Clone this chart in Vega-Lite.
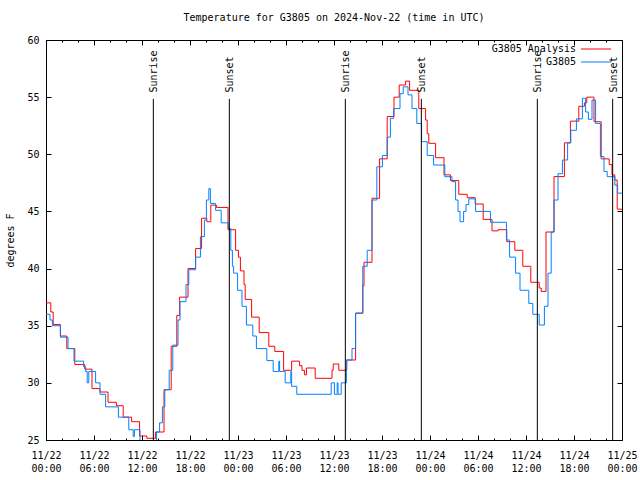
{
  "$schema": "https://vega.github.io/schema/vega-lite/v6.json",
  "width": 576,
  "height": 400,
  "autosize": "none",
  "padding": {"left": 46, "top": 40, "right": 18, "bottom": 40},
  "background": "white",
  "title": {"text": "Temperature for G3805 on 2024-Nov-22 (time in UTC)", "font": "DejaVu Sans Mono", "fontSize": 10, "fontWeight": "normal", "color": "black", "offset": 12},
  "datasets": {
    "obs": [
      {"t": "2024-11-22T00:00:00Z", "v": 37.0, "s": "G3805 Analysis"},
      {"t": "2024-11-22T00:36:00Z", "v": 36.2, "s": "G3805 Analysis"},
      {"t": "2024-11-22T00:54:00Z", "v": 35.1, "s": "G3805 Analysis"},
      {"t": "2024-11-22T01:48:00Z", "v": 34.1, "s": "G3805 Analysis"},
      {"t": "2024-11-22T02:36:00Z", "v": 33.0, "s": "G3805 Analysis"},
      {"t": "2024-11-22T03:36:00Z", "v": 31.6, "s": "G3805 Analysis"},
      {"t": "2024-11-22T04:51:00Z", "v": 31.2, "s": "G3805 Analysis"},
      {"t": "2024-11-22T05:45:00Z", "v": 29.5, "s": "G3805 Analysis"},
      {"t": "2024-11-22T06:45:00Z", "v": 29.2, "s": "G3805 Analysis"},
      {"t": "2024-11-22T07:45:00Z", "v": 28.3, "s": "G3805 Analysis"},
      {"t": "2024-11-22T08:48:00Z", "v": 28.0, "s": "G3805 Analysis"},
      {"t": "2024-11-22T09:39:00Z", "v": 27.0, "s": "G3805 Analysis"},
      {"t": "2024-11-22T10:42:00Z", "v": 26.6, "s": "G3805 Analysis"},
      {"t": "2024-11-22T11:42:00Z", "v": 25.35, "s": "G3805 Analysis"},
      {"t": "2024-11-22T12:36:00Z", "v": 25.15, "s": "G3805 Analysis"},
      {"t": "2024-11-22T13:42:00Z", "v": 25.7, "s": "G3805 Analysis"},
      {"t": "2024-11-22T14:45:00Z", "v": 29.4, "s": "G3805 Analysis"},
      {"t": "2024-11-22T15:39:00Z", "v": 33.2, "s": "G3805 Analysis"},
      {"t": "2024-11-22T16:21:00Z", "v": 35.9, "s": "G3805 Analysis"},
      {"t": "2024-11-22T16:42:00Z", "v": 37.5, "s": "G3805 Analysis"},
      {"t": "2024-11-22T17:45:00Z", "v": 40.0, "s": "G3805 Analysis"},
      {"t": "2024-11-22T18:42:00Z", "v": 41.75, "s": "G3805 Analysis"},
      {"t": "2024-11-22T19:27:00Z", "v": 44.4, "s": "G3805 Analysis"},
      {"t": "2024-11-22T20:06:00Z", "v": 44.1, "s": "G3805 Analysis"},
      {"t": "2024-11-22T20:36:00Z", "v": 45.55, "s": "G3805 Analysis"},
      {"t": "2024-11-22T21:18:00Z", "v": 45.35, "s": "G3805 Analysis"},
      {"t": "2024-11-22T22:45:00Z", "v": 43.4, "s": "G3805 Analysis"},
      {"t": "2024-11-22T23:42:00Z", "v": 41.6, "s": "G3805 Analysis"},
      {"t": "2024-11-23T00:03:00Z", "v": 41.0, "s": "G3805 Analysis"},
      {"t": "2024-11-23T00:18:00Z", "v": 39.8, "s": "G3805 Analysis"},
      {"t": "2024-11-23T00:45:00Z", "v": 38.6, "s": "G3805 Analysis"},
      {"t": "2024-11-23T00:54:00Z", "v": 37.3, "s": "G3805 Analysis"},
      {"t": "2024-11-23T01:42:00Z", "v": 35.75, "s": "G3805 Analysis"},
      {"t": "2024-11-23T02:39:00Z", "v": 34.4, "s": "G3805 Analysis"},
      {"t": "2024-11-23T03:51:00Z", "v": 33.2, "s": "G3805 Analysis"},
      {"t": "2024-11-23T04:36:00Z", "v": 32.75, "s": "G3805 Analysis"},
      {"t": "2024-11-23T05:42:00Z", "v": 31.1, "s": "G3805 Analysis"},
      {"t": "2024-11-23T06:42:00Z", "v": 31.9, "s": "G3805 Analysis"},
      {"t": "2024-11-23T07:42:00Z", "v": 31.5, "s": "G3805 Analysis"},
      {"t": "2024-11-23T08:00:00Z", "v": 31.1, "s": "G3805 Analysis"},
      {"t": "2024-11-23T08:18:00Z", "v": 30.7, "s": "G3805 Analysis"},
      {"t": "2024-11-23T08:33:00Z", "v": 31.3, "s": "G3805 Analysis"},
      {"t": "2024-11-23T09:39:00Z", "v": 30.4, "s": "G3805 Analysis"},
      {"t": "2024-11-23T11:45:00Z", "v": 31.1, "s": "G3805 Analysis"},
      {"t": "2024-11-23T11:54:00Z", "v": 31.65, "s": "G3805 Analysis"},
      {"t": "2024-11-23T12:36:00Z", "v": 31.1, "s": "G3805 Analysis"},
      {"t": "2024-11-23T13:36:00Z", "v": 32.0, "s": "G3805 Analysis"},
      {"t": "2024-11-23T14:42:00Z", "v": 36.1, "s": "G3805 Analysis"},
      {"t": "2024-11-23T15:36:00Z", "v": 38.5, "s": "G3805 Analysis"},
      {"t": "2024-11-23T15:45:00Z", "v": 40.55, "s": "G3805 Analysis"},
      {"t": "2024-11-23T16:45:00Z", "v": 46.15, "s": "G3805 Analysis"},
      {"t": "2024-11-23T17:42:00Z", "v": 49.6, "s": "G3805 Analysis"},
      {"t": "2024-11-23T18:39:00Z", "v": 53.3, "s": "G3805 Analysis"},
      {"t": "2024-11-23T19:30:00Z", "v": 55.0, "s": "G3805 Analysis"},
      {"t": "2024-11-23T20:09:00Z", "v": 56.06, "s": "G3805 Analysis"},
      {"t": "2024-11-23T20:57:00Z", "v": 56.4, "s": "G3805 Analysis"},
      {"t": "2024-11-23T21:27:00Z", "v": 55.6, "s": "G3805 Analysis"},
      {"t": "2024-11-23T22:36:00Z", "v": 54.0, "s": "G3805 Analysis"},
      {"t": "2024-11-23T23:27:00Z", "v": 53.0, "s": "G3805 Analysis"},
      {"t": "2024-11-23T23:39:00Z", "v": 51.8, "s": "G3805 Analysis"},
      {"t": "2024-11-23T23:51:00Z", "v": 50.96, "s": "G3805 Analysis"},
      {"t": "2024-11-24T00:42:00Z", "v": 49.7, "s": "G3805 Analysis"},
      {"t": "2024-11-24T01:45:00Z", "v": 48.2, "s": "G3805 Analysis"},
      {"t": "2024-11-24T02:33:00Z", "v": 47.7, "s": "G3805 Analysis"},
      {"t": "2024-11-24T03:36:00Z", "v": 46.5, "s": "G3805 Analysis"},
      {"t": "2024-11-24T04:39:00Z", "v": 46.2, "s": "G3805 Analysis"},
      {"t": "2024-11-24T05:39:00Z", "v": 45.65, "s": "G3805 Analysis"},
      {"t": "2024-11-24T06:39:00Z", "v": 44.3, "s": "G3805 Analysis"},
      {"t": "2024-11-24T07:45:00Z", "v": 43.3, "s": "G3805 Analysis"},
      {"t": "2024-11-24T08:30:00Z", "v": 43.4, "s": "G3805 Analysis"},
      {"t": "2024-11-24T09:36:00Z", "v": 42.35, "s": "G3805 Analysis"},
      {"t": "2024-11-24T10:36:00Z", "v": 41.6, "s": "G3805 Analysis"},
      {"t": "2024-11-24T11:36:00Z", "v": 40.2, "s": "G3805 Analysis"},
      {"t": "2024-11-24T12:36:00Z", "v": 38.8, "s": "G3805 Analysis"},
      {"t": "2024-11-24T13:39:00Z", "v": 38.3, "s": "G3805 Analysis"},
      {"t": "2024-11-24T13:54:00Z", "v": 38.0, "s": "G3805 Analysis"},
      {"t": "2024-11-24T14:30:00Z", "v": 43.2, "s": "G3805 Analysis"},
      {"t": "2024-11-24T15:30:00Z", "v": 48.05, "s": "G3805 Analysis"},
      {"t": "2024-11-24T16:48:00Z", "v": 51.0, "s": "G3805 Analysis"},
      {"t": "2024-11-24T17:33:00Z", "v": 52.9, "s": "G3805 Analysis"},
      {"t": "2024-11-24T18:36:00Z", "v": 54.2, "s": "G3805 Analysis"},
      {"t": "2024-11-24T19:18:00Z", "v": 54.5, "s": "G3805 Analysis"},
      {"t": "2024-11-24T19:36:00Z", "v": 55.0, "s": "G3805 Analysis"},
      {"t": "2024-11-24T20:30:00Z", "v": 52.85, "s": "G3805 Analysis"},
      {"t": "2024-11-24T21:24:00Z", "v": 49.6, "s": "G3805 Analysis"},
      {"t": "2024-11-24T22:24:00Z", "v": 49.1, "s": "G3805 Analysis"},
      {"t": "2024-11-24T22:45:00Z", "v": 48.2, "s": "G3805 Analysis"},
      {"t": "2024-11-24T23:06:00Z", "v": 47.75, "s": "G3805 Analysis"},
      {"t": "2024-11-24T23:24:00Z", "v": 45.2, "s": "G3805 Analysis"},
      {"t": "2024-11-25T00:00:00Z", "v": 45.2, "s": "G3805 Analysis"},
      {"t": "2024-11-22T00:00:00Z", "v": 36.0, "s": "G3805"},
      {"t": "2024-11-22T00:30:00Z", "v": 35.5, "s": "G3805"},
      {"t": "2024-11-22T00:48:00Z", "v": 35.0, "s": "G3805"},
      {"t": "2024-11-22T01:48:00Z", "v": 34.0, "s": "G3805"},
      {"t": "2024-11-22T02:45:00Z", "v": 33.0, "s": "G3805"},
      {"t": "2024-11-22T03:30:00Z", "v": 31.9, "s": "G3805"},
      {"t": "2024-11-22T04:42:00Z", "v": 31.4, "s": "G3805"},
      {"t": "2024-11-22T04:57:00Z", "v": 31.0, "s": "G3805"},
      {"t": "2024-11-22T05:09:00Z", "v": 30.0, "s": "G3805"},
      {"t": "2024-11-22T05:21:00Z", "v": 31.0, "s": "G3805"},
      {"t": "2024-11-22T06:12:00Z", "v": 30.0, "s": "G3805"},
      {"t": "2024-11-22T06:45:00Z", "v": 29.0, "s": "G3805"},
      {"t": "2024-11-22T07:27:00Z", "v": 27.9, "s": "G3805"},
      {"t": "2024-11-22T09:03:00Z", "v": 27.0, "s": "G3805"},
      {"t": "2024-11-22T10:21:00Z", "v": 25.9, "s": "G3805"},
      {"t": "2024-11-22T10:54:00Z", "v": 25.3, "s": "G3805"},
      {"t": "2024-11-22T11:03:00Z", "v": 25.9, "s": "G3805"},
      {"t": "2024-11-22T11:45:00Z", "v": 24.2, "s": "G3805"},
      {"t": "2024-11-22T13:48:00Z", "v": 25.7, "s": "G3805"},
      {"t": "2024-11-22T14:12:00Z", "v": 26.5, "s": "G3805"},
      {"t": "2024-11-22T14:33:00Z", "v": 27.9, "s": "G3805"},
      {"t": "2024-11-22T14:51:00Z", "v": 29.4, "s": "G3805"},
      {"t": "2024-11-22T15:24:00Z", "v": 31.1, "s": "G3805"},
      {"t": "2024-11-22T15:51:00Z", "v": 33.3, "s": "G3805"},
      {"t": "2024-11-22T16:30:00Z", "v": 35.5, "s": "G3805"},
      {"t": "2024-11-22T16:45:00Z", "v": 37.1, "s": "G3805"},
      {"t": "2024-11-22T17:30:00Z", "v": 38.6, "s": "G3805"},
      {"t": "2024-11-22T17:51:00Z", "v": 39.9, "s": "G3805"},
      {"t": "2024-11-22T18:42:00Z", "v": 41.0, "s": "G3805"},
      {"t": "2024-11-22T19:18:00Z", "v": 42.8, "s": "G3805"},
      {"t": "2024-11-22T19:48:00Z", "v": 44.25, "s": "G3805"},
      {"t": "2024-11-22T20:03:00Z", "v": 46.0, "s": "G3805"},
      {"t": "2024-11-22T20:21:00Z", "v": 47.0, "s": "G3805"},
      {"t": "2024-11-22T20:33:00Z", "v": 45.7, "s": "G3805"},
      {"t": "2024-11-22T21:12:00Z", "v": 45.1, "s": "G3805"},
      {"t": "2024-11-22T21:54:00Z", "v": 44.0, "s": "G3805"},
      {"t": "2024-11-22T22:48:00Z", "v": 43.5, "s": "G3805"},
      {"t": "2024-11-22T23:06:00Z", "v": 41.6, "s": "G3805"},
      {"t": "2024-11-22T23:18:00Z", "v": 40.2, "s": "G3805"},
      {"t": "2024-11-22T23:27:00Z", "v": 39.6, "s": "G3805"},
      {"t": "2024-11-22T23:57:00Z", "v": 38.1, "s": "G3805"},
      {"t": "2024-11-23T00:30:00Z", "v": 36.7, "s": "G3805"},
      {"t": "2024-11-23T01:03:00Z", "v": 35.06, "s": "G3805"},
      {"t": "2024-11-23T01:51:00Z", "v": 34.1, "s": "G3805"},
      {"t": "2024-11-23T02:18:00Z", "v": 33.0, "s": "G3805"},
      {"t": "2024-11-23T03:36:00Z", "v": 31.95, "s": "G3805"},
      {"t": "2024-11-23T04:24:00Z", "v": 31.0, "s": "G3805"},
      {"t": "2024-11-23T05:06:00Z", "v": 31.9, "s": "G3805"},
      {"t": "2024-11-23T05:12:00Z", "v": 31.0, "s": "G3805"},
      {"t": "2024-11-23T05:54:00Z", "v": 30.0, "s": "G3805"},
      {"t": "2024-11-23T06:36:00Z", "v": 31.0, "s": "G3805"},
      {"t": "2024-11-23T06:42:00Z", "v": 29.7, "s": "G3805"},
      {"t": "2024-11-23T07:21:00Z", "v": 29.0, "s": "G3805"},
      {"t": "2024-11-23T11:39:00Z", "v": 30.0, "s": "G3805"},
      {"t": "2024-11-23T12:03:00Z", "v": 29.0, "s": "G3805"},
      {"t": "2024-11-23T12:24:00Z", "v": 30.0, "s": "G3805"},
      {"t": "2024-11-23T12:30:00Z", "v": 29.0, "s": "G3805"},
      {"t": "2024-11-23T12:54:00Z", "v": 30.0, "s": "G3805"},
      {"t": "2024-11-23T13:33:00Z", "v": 32.0, "s": "G3805"},
      {"t": "2024-11-23T14:15:00Z", "v": 33.0, "s": "G3805"},
      {"t": "2024-11-23T14:42:00Z", "v": 36.1, "s": "G3805"},
      {"t": "2024-11-23T15:36:00Z", "v": 40.2, "s": "G3805"},
      {"t": "2024-11-23T16:09:00Z", "v": 41.6, "s": "G3805"},
      {"t": "2024-11-23T16:45:00Z", "v": 46.0, "s": "G3805"},
      {"t": "2024-11-23T17:21:00Z", "v": 48.9, "s": "G3805"},
      {"t": "2024-11-23T18:03:00Z", "v": 49.9, "s": "G3805"},
      {"t": "2024-11-23T18:39:00Z", "v": 51.5, "s": "G3805"},
      {"t": "2024-11-23T19:03:00Z", "v": 53.15, "s": "G3805"},
      {"t": "2024-11-23T19:27:00Z", "v": 54.0, "s": "G3805"},
      {"t": "2024-11-23T20:15:00Z", "v": 55.3, "s": "G3805"},
      {"t": "2024-11-23T20:39:00Z", "v": 55.9, "s": "G3805"},
      {"t": "2024-11-23T21:15:00Z", "v": 55.2, "s": "G3805"},
      {"t": "2024-11-23T21:45:00Z", "v": 54.0, "s": "G3805"},
      {"t": "2024-11-23T22:21:00Z", "v": 52.7, "s": "G3805"},
      {"t": "2024-11-23T22:57:00Z", "v": 51.1, "s": "G3805"},
      {"t": "2024-11-23T23:39:00Z", "v": 49.9, "s": "G3805"},
      {"t": "2024-11-24T00:27:00Z", "v": 49.06, "s": "G3805"},
      {"t": "2024-11-24T01:51:00Z", "v": 48.04, "s": "G3805"},
      {"t": "2024-11-24T02:45:00Z", "v": 47.6, "s": "G3805"},
      {"t": "2024-11-24T03:12:00Z", "v": 46.0, "s": "G3805"},
      {"t": "2024-11-24T03:30:00Z", "v": 45.0, "s": "G3805"},
      {"t": "2024-11-24T03:45:00Z", "v": 44.1, "s": "G3805"},
      {"t": "2024-11-24T04:12:00Z", "v": 45.0, "s": "G3805"},
      {"t": "2024-11-24T04:30:00Z", "v": 45.6, "s": "G3805"},
      {"t": "2024-11-24T04:51:00Z", "v": 46.1, "s": "G3805"},
      {"t": "2024-11-24T05:42:00Z", "v": 45.0, "s": "G3805"},
      {"t": "2024-11-24T07:33:00Z", "v": 44.05, "s": "G3805"},
      {"t": "2024-11-24T09:33:00Z", "v": 42.5, "s": "G3805"},
      {"t": "2024-11-24T09:57:00Z", "v": 41.0, "s": "G3805"},
      {"t": "2024-11-24T10:42:00Z", "v": 39.6, "s": "G3805"},
      {"t": "2024-11-24T11:15:00Z", "v": 38.1, "s": "G3805"},
      {"t": "2024-11-24T12:21:00Z", "v": 36.95, "s": "G3805"},
      {"t": "2024-11-24T12:51:00Z", "v": 36.0, "s": "G3805"},
      {"t": "2024-11-24T13:39:00Z", "v": 35.06, "s": "G3805"},
      {"t": "2024-11-24T14:18:00Z", "v": 36.7, "s": "G3805"},
      {"t": "2024-11-24T14:45:00Z", "v": 39.6, "s": "G3805"},
      {"t": "2024-11-24T15:09:00Z", "v": 43.2, "s": "G3805"},
      {"t": "2024-11-24T15:30:00Z", "v": 46.0, "s": "G3805"},
      {"t": "2024-11-24T16:00:00Z", "v": 48.3, "s": "G3805"},
      {"t": "2024-11-24T16:33:00Z", "v": 49.5, "s": "G3805"},
      {"t": "2024-11-24T17:12:00Z", "v": 51.0, "s": "G3805"},
      {"t": "2024-11-24T17:36:00Z", "v": 52.1, "s": "G3805"},
      {"t": "2024-11-24T18:18:00Z", "v": 53.1, "s": "G3805"},
      {"t": "2024-11-24T19:03:00Z", "v": 54.9, "s": "G3805"},
      {"t": "2024-11-24T19:27:00Z", "v": 53.7, "s": "G3805"},
      {"t": "2024-11-24T19:48:00Z", "v": 53.06, "s": "G3805"},
      {"t": "2024-11-24T20:15:00Z", "v": 54.75, "s": "G3805"},
      {"t": "2024-11-24T20:42:00Z", "v": 52.7, "s": "G3805"},
      {"t": "2024-11-24T21:18:00Z", "v": 49.8, "s": "G3805"},
      {"t": "2024-11-24T21:45:00Z", "v": 48.5, "s": "G3805"},
      {"t": "2024-11-24T22:09:00Z", "v": 48.04, "s": "G3805"},
      {"t": "2024-11-24T23:06:00Z", "v": 47.3, "s": "G3805"},
      {"t": "2024-11-24T23:27:00Z", "v": 46.6, "s": "G3805"},
      {"t": "2024-11-25T00:00:00Z", "v": 46.6, "s": "G3805"}
    ],
    "events": [
      {"t": "2024-11-22T13:25:00Z", "label": "Sunrise"},
      {"t": "2024-11-22T22:55:00Z", "label": "Sunset"},
      {"t": "2024-11-23T13:25:00Z", "label": "Sunrise"},
      {"t": "2024-11-23T22:55:00Z", "label": "Sunset"},
      {"t": "2024-11-24T13:25:00Z", "label": "Sunrise"},
      {"t": "2024-11-24T22:50:00Z", "label": "Sunset"}
    ]
  },
  "layer": [
    {
      "data": {"name": "obs"},
      "transform": [{"filter": "datum.s === 'G3805 Analysis'"}],
      "mark": {"type": "line", "interpolate": "step-after", "strokeWidth": 1, "clip": true},
      "encoding": {
        "x": {"field": "t", "type": "temporal",
          "scale": {"type": "utc", "domain": [1732233600000, 1732492800000]},
          "axis": {"orient": "bottom", "title": null,
            "values": [1732233600000, 1732255200000, 1732276800000, 1732298400000, 1732320000000, 1732341600000, 1732363200000, 1732384800000, 1732406400000, 1732428000000, 1732449600000, 1732471200000, 1732492800000],
            "labelExpr": "[utcFormat(datum.value, '%m/%d'), utcFormat(datum.value, '%H:%M')]", "tickSize": -5, "labelPadding": 15, "labelLineHeight": 13.3, "labelFlush": false, "labelOverlap": false, "labelBound": false}},
        "y": {"field": "v", "type": "quantitative",
          "scale": {"domain": [25, 60], "nice": false, "zero": false},
          "axis": {"orient": "left", "title": "degrees F", "values": [25, 30, 35, 40, 45, 50, 55, 60], "tickSize": -5, "labelPadding": 12, "titlePadding": 11}},
        "color": {"field": "s", "type": "nominal",
          "scale": {"domain": ["G3805 Analysis", "G3805"], "range": ["#ff0000", "#0080ff"]},
          "legend": {"orient": "none", "legendX": 545, "legendY": 4, "title": null, "padding": 0, "symbolType": "M-5,0H5", "symbolSize": 36, "symbolStrokeWidth": 1, "labelAlign": "right", "labelOffset": -25, "labelFont": "DejaVu Sans Mono", "labelFontSize": 10, "labelColor": "black", "rowPadding": 3}}
      }
    },
    {
      "data": {"name": "obs"},
      "transform": [{"filter": "datum.s === 'G3805'"}],
      "mark": {"type": "line", "interpolate": "step-after", "strokeWidth": 1, "clip": true},
      "encoding": {
        "x": {"field": "t", "type": "temporal",
          "axis": {"orient": "bottom", "title": null, "labels": false, "domain": false, "tickSize": -2,
            "values": [1732240800000, 1732248000000, 1732262400000, 1732269600000, 1732284000000, 1732291200000, 1732305600000, 1732312800000, 1732327200000, 1732334400000, 1732348800000, 1732356000000, 1732370400000, 1732377600000, 1732392000000, 1732399200000, 1732413600000, 1732420800000, 1732435200000, 1732442400000, 1732456800000, 1732464000000, 1732478400000, 1732485600000]}},
        "y": {"field": "v", "type": "quantitative",
          "axis": {"orient": "right", "title": null, "values": [25, 30, 35, 40, 45, 50, 55, 60], "labels": false, "domain": false, "tickSize": -5}},
        "color": {"field": "s", "type": "nominal"}
      }
    },
    {
      "data": {"name": "events"},
      "mark": {"type": "rule", "color": "black", "strokeWidth": 1},
      "encoding": {
        "x": {"field": "t", "type": "temporal",
          "axis": {"orient": "top", "title": null, "labels": false, "domain": false, "tickSize": -5,
            "values": [1732233600000, 1732255200000, 1732276800000, 1732298400000, 1732320000000, 1732341600000, 1732363200000, 1732384800000, 1732406400000, 1732428000000, 1732449600000, 1732471200000, 1732492800000]}},
        "y": {"datum": 54.85, "type": "quantitative", "axis": null},
        "y2": {"datum": 25}
      }
    },
    {
      "data": {"name": "events"},
      "mark": {"type": "text", "angle": 270, "align": "left", "baseline": "middle", "dy": 1, "font": "DejaVu Sans Mono", "fontSize": 10, "color": "black"},
      "encoding": {
        "x": {"field": "t", "type": "temporal",
          "axis": {"orient": "top", "title": null, "labels": false, "domain": false, "tickSize": -2,
            "values": [1732240800000, 1732248000000, 1732262400000, 1732269600000, 1732284000000, 1732291200000, 1732305600000, 1732312800000, 1732327200000, 1732334400000, 1732348800000, 1732356000000, 1732370400000, 1732377600000, 1732392000000, 1732399200000, 1732413600000, 1732420800000, 1732435200000, 1732442400000, 1732456800000, 1732464000000, 1732478400000, 1732485600000]}},
        "y": {"datum": 55.4, "type": "quantitative", "axis": null},
        "text": {"field": "label"}
      }
    }
  ],
  "resolve": {"axis": {"x": "independent", "y": "independent"}},
  "config": {
    "view": {"stroke": "black", "strokeWidth": 1},
    "axis": {"grid": false, "domainColor": "black", "tickColor": "black", "labelColor": "black", "titleColor": "black", "labelFont": "DejaVu Sans Mono", "labelFontSize": 10, "titleFont": "DejaVu Sans Mono", "titleFontSize": 10, "titleFontWeight": "normal", "domainWidth": 1, "tickWidth": 1}
  }
}
